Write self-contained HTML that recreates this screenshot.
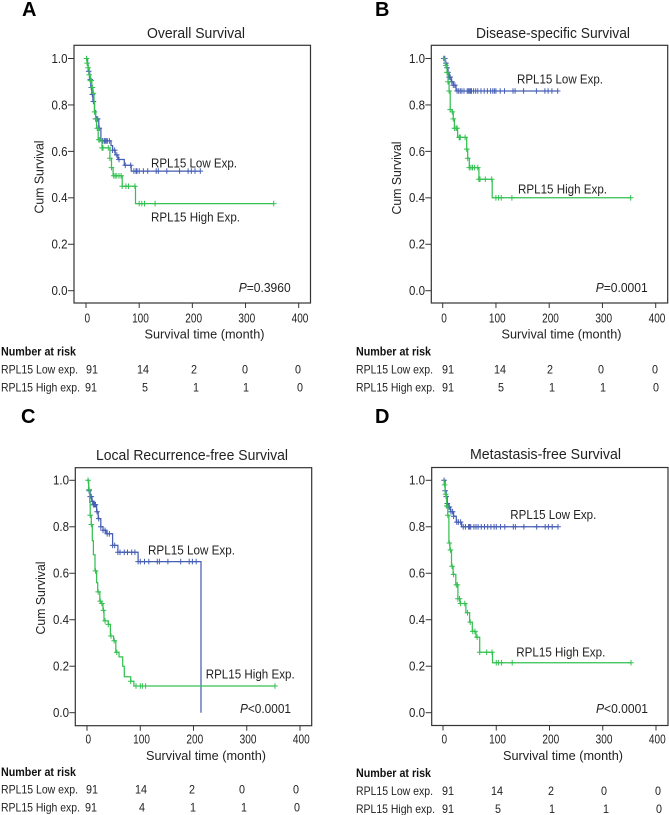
<!DOCTYPE html>
<html lang="en">
<head>
<meta charset="utf-8">
<title>RPL15 survival curves</title>
<style>
html,body{margin:0;padding:0;background:#fff;width:669px;height:815px;overflow:hidden}
svg{display:block;filter:blur(0.3px)}
text{font-family:"Liberation Sans",sans-serif;fill:#222;font-size:12px}
.ttl{font-size:14.5px}
.lbl{font-size:13px}
.risk{font-size:12px}
.letter{font-size:20px;font-weight:bold;fill:#000}
.hdr{font-size:12px;font-weight:bold;fill:#111}
</style>
</head>
<body>
<svg id="chart" xmlns="http://www.w3.org/2000/svg" width="669" height="815" viewBox="0 0 669 815">
  <g id="panel-a">
    <text class="letter" x="22" y="16">A</text>
    <text class="ttl" x="147" y="38" textLength="98" lengthAdjust="spacingAndGlyphs">Overall Survival</text>
    <text class="lbl" transform="translate(43.5,177) rotate(-90)" text-anchor="middle" textLength="73" lengthAdjust="spacingAndGlyphs">Cum Survival</text>
    <text class="lbl" x="144.5" y="338.5" textLength="120" lengthAdjust="spacingAndGlyphs">Survival time (month)</text>
    <text class="lbl" x="151" y="167.5" textLength="86" lengthAdjust="spacingAndGlyphs">RPL15 Low Exp.</text>
    <text class="lbl" x="151" y="221.5" textLength="89" lengthAdjust="spacingAndGlyphs">RPL15 High Exp.</text>
    <text class="lbl" x="238.7" y="292" textLength="52" lengthAdjust="spacingAndGlyphs"><tspan font-style="italic">P</tspan>=0.3960</text>
  </g>
  <g id="panel-b">
    <text class="letter" x="375" y="16">B</text>
    <text class="ttl" x="476" y="38" textLength="154" lengthAdjust="spacingAndGlyphs">Disease-specific Survival</text>
    <text class="lbl" transform="translate(401,178) rotate(-90)" text-anchor="middle" textLength="73" lengthAdjust="spacingAndGlyphs">Cum Survival</text>
    <text class="lbl" x="501.5" y="338.5" textLength="120" lengthAdjust="spacingAndGlyphs">Survival time (month)</text>
    <text class="lbl" x="517" y="83.5" textLength="86" lengthAdjust="spacingAndGlyphs">RPL15 Low Exp.</text>
    <text class="lbl" x="518" y="193.5" textLength="89" lengthAdjust="spacingAndGlyphs">RPL15 High Exp.</text>
    <text class="lbl" x="595.7" y="292" textLength="52" lengthAdjust="spacingAndGlyphs"><tspan font-style="italic">P</tspan>=0.0001</text>
  </g>
  <g id="panel-c">
    <text class="letter" x="21" y="423">C</text>
    <text class="ttl" x="96" y="460" textLength="192" lengthAdjust="spacingAndGlyphs">Local Recurrence-free Survival</text>
    <text class="lbl" transform="translate(45,598) rotate(-90)" text-anchor="middle" textLength="73" lengthAdjust="spacingAndGlyphs">Cum Survival</text>
    <text class="lbl" x="146" y="760" textLength="120" lengthAdjust="spacingAndGlyphs">Survival time (month)</text>
    <text class="lbl" x="148" y="554.5" textLength="87" lengthAdjust="spacingAndGlyphs">RPL15 Low Exp.</text>
    <text class="lbl" x="205.7" y="678.5" textLength="89" lengthAdjust="spacingAndGlyphs">RPL15 High Exp.</text>
    <text class="lbl" x="240" y="713" textLength="51" lengthAdjust="spacingAndGlyphs"><tspan font-style="italic">P</tspan>&lt;0.0001</text>
  </g>
  <g id="panel-d">
    <text class="letter" x="375" y="423">D</text>
    <text class="ttl" x="470" y="459" textLength="151" lengthAdjust="spacingAndGlyphs">Metastasis-free Survival</text>
    <text class="lbl" x="503" y="760" textLength="120" lengthAdjust="spacingAndGlyphs">Survival time (month)</text>
    <text class="lbl" x="510.3" y="519" textLength="86" lengthAdjust="spacingAndGlyphs">RPL15 Low Exp.</text>
    <text class="lbl" x="516.3" y="656.5" textLength="89" lengthAdjust="spacingAndGlyphs">RPL15 High Exp.</text>
    <text class="lbl" x="596" y="713" textLength="52" lengthAdjust="spacingAndGlyphs"><tspan font-style="italic">P</tspan>&lt;0.0001</text>
  </g>
</svg>
<script>
var xTickValues = [0, 100, 200, 300, 400];
var yTickValues = [0, 0.2, 0.4, 0.6, 0.8, 1];
var yTickLabels = ["0.0", "0.2", "0.4", "0.6", "0.8", "1.0"];

var riskLow = {
  a: ["91", "14", "2", "0", "0"], b: ["91", "14", "2", "0", "0"],
  c: ["91", "14", "2", "0", "0"], d: ["91", "14", "2", "0", "0"]
};
var riskHigh = {
  a: ["91", "5", "1", "1", "0"], b: ["91", "5", "1", "1", "0"],
  c: ["91", "4", "1", "1", "0"], d: ["91", "5", "1", "1", "0"]
};

var aLowTimes = [0, 3, 4, 7, 9, 11, 13, 16, 18, 24, 28, 47, 50, 55, 60, 72, 85, 215];
var aLowSurv = [1, 0.97, 0.945, 0.91, 0.875, 0.845, 0.815, 0.775, 0.74, 0.7, 0.645, 0.625, 0.605, 0.585, 0.565, 0.54, 0.515, 0.515];
var aLowCensor = [5, 8, 10, 12, 14, 18, 20, 22, 25, 31, 34, 36, 38, 40, 44, 50, 54, 58, 62, 74, 84, 90, 94, 96, 100, 108, 116, 132, 136, 152, 176, 192, 198, 205, 215];
var aHighTimes = [0, 2, 4, 6, 8, 11, 13, 15, 16, 18, 20, 23, 30, 45, 48, 51, 68, 93, 353];
var aHighSurv = [1, 0.98, 0.96, 0.93, 0.905, 0.875, 0.85, 0.81, 0.77, 0.74, 0.7, 0.65, 0.615, 0.57, 0.53, 0.495, 0.45, 0.375, 0.375];
var aHighCensor = [1, 2, 4, 6, 8, 10, 12, 14, 16, 18, 21, 24, 26, 30, 32, 42, 45, 48, 52, 55, 58, 62, 66, 68, 75, 80, 92, 100, 105, 110, 130, 353];

var bLowTimes = [0, 5, 8, 10, 12, 16, 20, 25, 216];
var bLowSurv = [1, 0.98, 0.96, 0.94, 0.92, 0.9, 0.885, 0.86, 0.86];
var bLowCensor = [2, 4, 6, 8, 10, 12, 14, 17, 20, 23, 27, 30, 33, 36, 40, 46, 48, 50, 52, 54, 58, 62, 66, 72, 78, 84, 90, 94, 97, 100, 108, 116, 132, 136, 152, 176, 192, 198, 205, 216];
var bHighTimes = [0, 5, 8, 10, 12, 14, 18, 20, 22, 28, 45, 47, 50, 68, 93, 353];
var bHighSurv = [1, 0.97, 0.94, 0.9, 0.86, 0.78, 0.77, 0.74, 0.7, 0.66, 0.61, 0.57, 0.53, 0.48, 0.4, 0.4];
var bHighCensor = [6, 8, 10, 12, 14, 18, 20, 22, 25, 27, 31, 32, 33, 42, 45, 47, 50, 53, 56, 60, 66, 68, 70, 80, 92, 100, 105, 110, 130, 353];

var cLowTimes = [0, 3, 6, 9, 12, 18, 21, 26, 30, 36, 48, 58, 96, 214, 214];
var cLowSurv = [1, 0.955, 0.93, 0.91, 0.895, 0.865, 0.835, 0.8, 0.785, 0.77, 0.72, 0.69, 0.65, 0.65, 0];
var cLowCensor = [4, 6, 8, 10, 12, 14, 16, 19, 22, 26, 30, 34, 38, 42, 48, 52, 58, 62, 70, 76, 84, 90, 96, 100, 108, 116, 132, 136, 152, 176, 192, 198, 205];
var cHighTimes = [0, 3, 5, 6, 8, 10, 12, 15, 18, 20, 24, 27, 30, 32, 40, 44, 50, 54, 60, 67, 70, 82, 88, 353];
var cHighSurv = [1, 0.96, 0.905, 0.85, 0.81, 0.74, 0.68, 0.61, 0.56, 0.52, 0.48, 0.47, 0.44, 0.395, 0.38, 0.33, 0.31, 0.26, 0.24, 0.2, 0.155, 0.135, 0.115, 0.115];
var cHighCensor = [2, 4, 6, 8, 16, 21, 25, 28, 31, 34, 40, 45, 51, 56, 82, 92, 100, 104, 110, 353];

var dLowTimes = [0, 4, 6, 8, 10, 14, 20, 25, 35, 216];
var dLowSurv = [1, 0.955, 0.93, 0.9, 0.885, 0.865, 0.845, 0.82, 0.8, 0.8];
var dLowCensor = [2, 4, 6, 8, 10, 12, 15, 18, 20, 26, 29, 33, 38, 42, 48, 50, 52, 58, 62, 66, 72, 78, 84, 90, 96, 100, 108, 116, 132, 136, 152, 176, 192, 198, 205, 216];
var dHighTimes = [0, 2, 4, 7, 9, 11, 13, 16, 19, 24, 28, 32, 43, 50, 55, 62, 69, 93, 353];
var dHighSurv = [1, 0.98, 0.94, 0.89, 0.85, 0.73, 0.7, 0.63, 0.595, 0.55, 0.49, 0.47, 0.43, 0.39, 0.35, 0.325, 0.26, 0.215, 0.215];
var dHighCensor = [3, 5, 7, 9, 12, 14, 17, 20, 25, 27, 28, 31, 33, 41, 46, 51, 56, 60, 64, 69, 82, 92, 100, 104, 110, 130, 353];

var NS = "http://www.w3.org/2000/svg";
var LOW_COLOR = "#465fb5";
var HIGH_COLOR = "#35c152";

function makePanel(cfg) {
  cfg.x = function (t) { return cfg.x0 + (cfg.x400 - cfg.x0) * t / 400; };
  cfg.y = function (s) { return cfg.y0 + (cfg.y1 - cfg.y0) * s; };
  return cfg;
}

var panels = [
  makePanel({ id: "a", left: 74, right: 310.5, top: 45.3, bottom: 303, x0: 86, x400: 298.7, y0: 290.7, y1: 58.5,
    xLabelBase: 322.5, xLabelShift: 1.3, yLabelEnd: 67.5, lowT: aLowTimes, lowS: aLowSurv, lowC: aLowCensor, highT: aHighTimes, highS: aHighSurv, highC: aHighCensor,
    riskX: [1], riskHdrY: 355.5, riskY1: 373.5, riskY2: 391.5, lowX: [92, 143, 194, 245, 298], highX: [91, 145, 196, 246, 300] }),
  makePanel({ id: "b", left: 431.3, right: 667.7, top: 45.3, bottom: 303, x0: 442.7, x400: 655.7, y0: 290.7, y1: 58.5,
    xLabelBase: 322.5, xLabelShift: 1.3, yLabelEnd: 425, lowT: bLowTimes, lowS: bLowSurv, lowC: bLowCensor, highT: bHighTimes, highS: bHighSurv, highC: bHighCensor,
    riskX: [356], riskHdrY: 355.5, riskY1: 373.5, riskY2: 391.5, lowX: [448, 500, 550, 601, 655], highX: [448, 501, 552, 603, 656] }),
  makePanel({ id: "c", left: 75.3, right: 311.7, top: 467.7, bottom: 725.7, x0: 87, x400: 300, y0: 712.7, y1: 480.3,
    xLabelBase: 743.5, xLabelShift: 1.3, yLabelEnd: 69, lowT: cLowTimes, lowS: cLowSurv, lowC: cLowCensor, highT: cHighTimes, highS: cHighSurv, highC: cHighCensor,
    riskX: [1], riskHdrY: 776, riskY1: 793.7, riskY2: 811.5, lowX: [92, 141, 192, 242, 296], highX: [91, 142, 193, 244, 297] }),
  makePanel({ id: "d", left: 431.7, right: 668, top: 467.5, bottom: 725.5, x0: 443, x400: 656, y0: 712.7, y1: 480.3,
    xLabelBase: 743.5, xLabelShift: 1.3, yLabelEnd: 425, lowT: dLowTimes, lowS: dLowSurv, lowC: dLowCensor, highT: dHighTimes, highS: dHighSurv, highC: dHighCensor,
    riskX: [356], riskHdrY: 777, riskY1: 795, riskY2: 813, lowX: [448, 497, 551, 604, 658], highX: [448, 498, 552, 606, 659] })
];

function el(parent, tag, attrs) {
  var node = document.createElementNS(NS, tag);
  for (var k in attrs) { node.setAttribute(k, attrs[k]); }
  parent.appendChild(node);
  return node;
}

function survivalAt(times, surv, t) {
  var s = surv[0];
  for (var i = 0; i < times.length; i++) {
    if (times[i] <= t) { s = surv[i]; }
  }
  return s;
}

function drawSeries(g, p, times, surv, censor, color, name) {
  var d = "M" + p.x(times[0]).toFixed(1) + " " + p.y(surv[0]).toFixed(1);
  for (var i = 1; i < times.length; i++) {
    d += "H" + p.x(times[i]).toFixed(1) + "V" + p.y(surv[i]).toFixed(1);
  }
  var line = el(g, "path", { d: d, fill: "none", stroke: color, "stroke-width": 1.25 });
  
  
  censor.forEach(function (t) {
    var cx = p.x(t), cy = p.y(survivalAt(times, surv, t));
    var mark = el(g, "path", {
      d: "M" + (cx - 2.8).toFixed(1) + " " + cy.toFixed(1) + "H" + (cx + 2.8).toFixed(1) + "M" + cx.toFixed(1) + " " + (cy - 2.8).toFixed(1) + "V" + (cy + 2.8).toFixed(1),
      stroke: color, "stroke-width": 1, fill: "none"
    });
    
    
  });
}

function drawRisk(g, p, list, xs, yPos, name, rowName) {
  list.forEach(function (v, i) {
    var t = el(g, "text", { x: xs[i], y: yPos, "text-anchor": "middle", "class": "risk", textLength: v.length * 6, lengthAdjust: "spacingAndGlyphs" });
    
    
    t.textContent = v;
  });
  var label = el(g, "text", { x: p.riskX[0], y: yPos, "class": "risk", textLength: rowName === "RPL15 Low exp." ? 77 : 79, lengthAdjust: "spacingAndGlyphs" });
  
  
  label.textContent = rowName;
}

panels.forEach(function (p) {
  var g = document.getElementById("panel-" + p.id);

  var frame = el(g, "rect", { x: p.left, y: p.top, width: p.right - p.left, height: p.bottom - p.top, fill: "none", stroke: "#333", "stroke-width": 1.2 });
  
  

  yTickValues.forEach(function (v, i) {
    var y = p.y(v);
    var tick = el(g, "line", { x1: p.left - 6, x2: p.left, y1: y, y2: y, stroke: "#333", "stroke-width": 1 });
    
    
    var lab = el(g, "text", { x: p.yLabelEnd, y: y + 4.4, "text-anchor": "end", "class": "lbl", textLength: 16, lengthAdjust: "spacingAndGlyphs" });
    
    
    lab.textContent = yTickLabels[i];
  });

  xTickValues.forEach(function (v) {
    var x = p.x(v);
    var tick = el(g, "line", { x1: x, x2: x, y1: p.bottom, y2: p.bottom + 5, stroke: "#333", "stroke-width": 1 });
    
    
    var s = String(v);
    var lab = el(g, "text", { x: x + p.xLabelShift, y: p.xLabelBase, "text-anchor": "middle", "class": "lbl", textLength: s.length * 5.6, lengthAdjust: "spacingAndGlyphs" });
    
    
    lab.textContent = s;
  });

  drawSeries(g, p, p.lowT, p.lowS, p.lowC, LOW_COLOR, "low-exp");
  drawSeries(g, p, p.highT, p.highS, p.highC, HIGH_COLOR, "high-exp");

  var hdr = el(g, "text", { x: p.riskX[0], y: p.riskHdrY, "class": "hdr", textLength: 75, lengthAdjust: "spacingAndGlyphs" });
  
  
  hdr.textContent = "Number at risk";

  drawRisk(g, p, riskLow[p.id], p.lowX, p.riskY1, "risk-low-count", "RPL15 Low exp.");
  drawRisk(g, p, riskHigh[p.id], p.highX, p.riskY2, "risk-high-count", "RPL15 High exp.");
});
</script>
</body>
</html>
